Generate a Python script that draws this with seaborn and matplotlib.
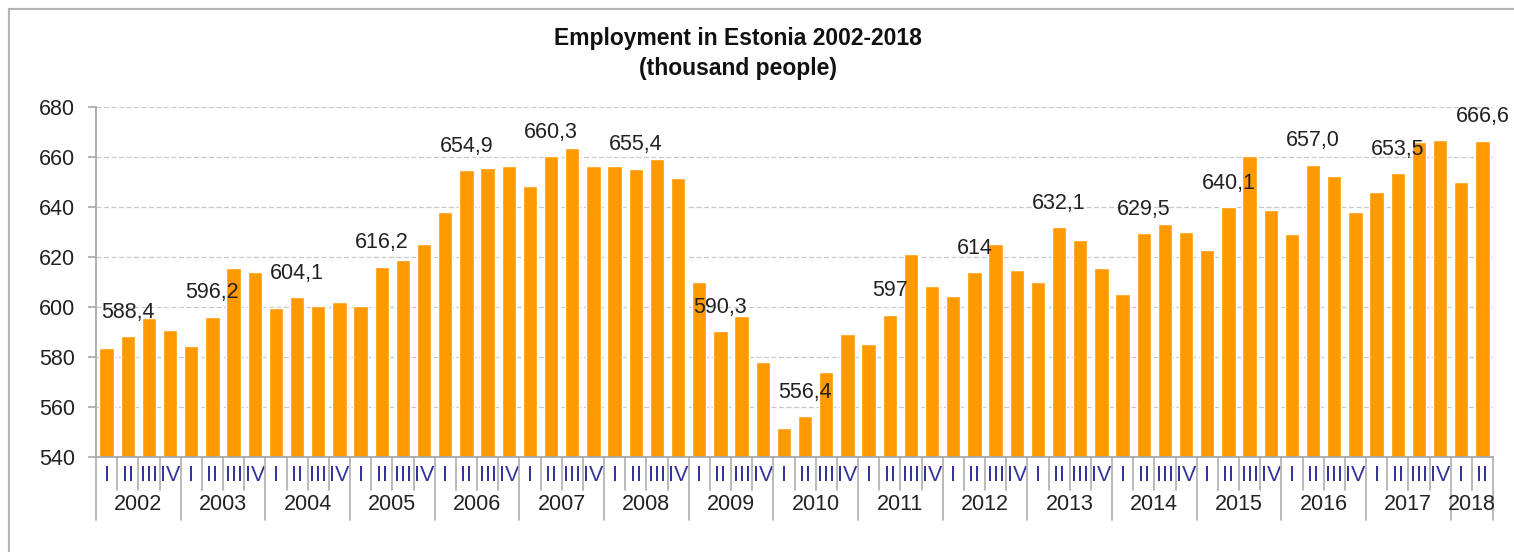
import matplotlib
matplotlib.use('Agg')
import matplotlib.pyplot as plt
import matplotlib.patches as mpatches
import matplotlib.transforms as mtransforms
import seaborn as sns
import pandas as pd

# データ
years = ['2002', '2003', '2004', '2005', '2006', '2007', '2008', '2009',
         '2010', '2011', '2012', '2013', '2014', '2015', '2016', '2017', '2018']
quarters = ['I', 'II', 'III', 'IV']
employment = [
    583.8, 588.4, 595.6, 591.0,   # 2002
    584.6, 596.2, 615.6, 614.0,   # 2003
    599.8, 604.1, 600.6, 602.2,   # 2004
    600.6, 616.2, 619.0, 625.4,   # 2005
    638.2, 654.9, 655.8, 656.6,   # 2006
    648.6, 660.3, 663.8, 656.6,   # 2007
    656.6, 655.4, 659.1, 651.8,   # 2008
    610.0, 590.3, 596.6, 578.0,   # 2009
    551.6, 556.4, 574.0, 589.2,   # 2010
    585.2, 597.0, 621.2, 608.4,   # 2011
    604.4, 614.0, 625.2, 614.8,   # 2012
    610.0, 632.1, 626.8, 615.6,   # 2013
    605.2, 629.5, 633.2, 630.0,   # 2014
    622.8, 640.1, 660.4, 638.8,   # 2015
    629.2, 657.0, 652.4, 638.0,   # 2016
    646.0, 653.5, 666.0, 666.8,   # 2017
    650.0, 666.6,                 # 2018
]
# 第2四半期のラベル
labels_q2 = ['588,4', '596,2', '604,1', '616,2', '654,9', '660,3', '655,4', '590,3',
             '556,4', '597', '614', '632,1', '629,5', '640,1', '657,0', '653,5', '666,6']

n = len(employment)
period_year = [years[i // 4] for i in range(n)]
period_q = [quarters[i % 4] for i in range(n)]
df = pd.DataFrame({'idx': range(n), 'year': period_year, 'q': period_q, 'value': employment})

sns.set_style('white')
plt.rcParams['font.family'] = ['Liberation Sans', 'DejaVu Sans']
fs = 15.5  # 目盛り・ラベルのフォントサイズ

fig = plt.figure(figsize=(15.14, 5.52), dpi=100)
ax = fig.add_axes([96 / 1514, 1 - 457 / 552, (1493 - 96) / 1514, 350 / 552])

sns.barplot(data=df, x='idx', y='value', color='#FF9900', saturation=1,
            width=0.68, ax=ax, zorder=2)

ax.set_ylim(540, 680)
ax.set_xlim(-0.5, n - 0.5)
ax.set_yticks(range(540, 681, 20))
ax.yaxis.grid(True, linestyle=(0, (4, 2)), color='#c8c8c8', linewidth=0.9, zorder=0)
ax.set_axisbelow(True)
ax.set_xlabel('')
ax.set_ylabel('')

for s in ['top', 'right']:
    ax.spines[s].set_visible(False)
for s in ['left', 'bottom']:
    ax.spines[s].set_color('#a8a8a8')
    ax.spines[s].set_linewidth(1.3)

ax.tick_params(axis='y', length=6, color='#a8a8a8', width=1.2, pad=9,
               labelsize=fs, labelcolor='#222222', direction='out', left=True)

# x軸: 四半期ラベル
ax.set_xticks(range(n))
ax.set_xticklabels(period_q, fontsize=fs, color='#333399')
ax.tick_params(axis='x', length=0, pad=6, bottom=False)

trans = mtransforms.blended_transform_factory(ax.transData, ax.transAxes)
short_len = 33 / 350
long_len = 63 / 350
for b in range(n + 1):
    x = b - 0.5
    depth = long_len if (b % 4 == 0 or b == n) else short_len
    ax.plot([x, x], [0, -depth], transform=trans, color='#b4b4b4',
            linewidth=1.3, clip_on=False, zorder=1)

# 年ラベル
for k, yr in enumerate(years):
    start = k * 4
    end = min(start + 4, n)
    ax.text((start + end - 1) / 2, -48 / 350, yr, transform=trans,
            ha='center', va='center', fontsize=fs, color='#222222')

# 第2四半期の値ラベル
for k, lab in enumerate(labels_q2):
    i = k * 4 + 1
    ax.annotate(lab, xy=(i, employment[i]), xytext=(0, 17), textcoords='offset points',
                ha='center', va='center', fontsize=fs, color='#222222', zorder=3)

# タイトル
fig.text(738 / 1514, 1 - 38 / 552, 'Employment in Estonia 2002-2018',
         ha='center', va='center', fontsize=16.5, fontweight='bold', color='#111111')
fig.text(738 / 1514, 1 - 68 / 552, '(thousand people)',
         ha='center', va='center', fontsize=16.5, fontweight='bold', color='#111111')

# 外枠
fig.patches.append(mpatches.Rectangle((9 / 1514, -0.1), 1.2, 1.1 - 9 / 552,
                                      transform=fig.transFigure, fill=False,
                                      edgecolor='#b4b4b4', linewidth=1.5))

fig.savefig('out.png', dpi=100)
